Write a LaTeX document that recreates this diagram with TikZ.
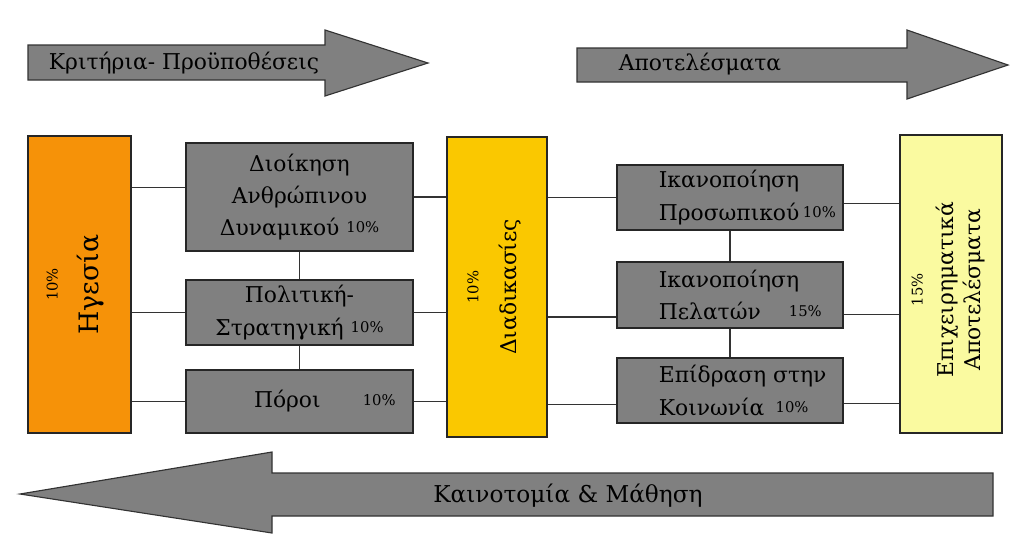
\documentclass[tikz,border=0pt]{standalone}
\usepackage{fontspec}
\setmainfont{DejaVu Serif}
\definecolor{leadorange}{RGB}{246,146,8}
\definecolor{procgold}{RGB}{250,200,0}
\definecolor{bizyellow}{RGB}{250,250,160}
\definecolor{boxgray}{RGB}{128,128,128}
\newcommand\pcnt[1]{\raisebox{2pt}{\fontsize{10.5}{12}\selectfont #1}}
\tikzset{
  bigarrow/.style={draw=black!80, fill=boxgray, line width=0.8pt},
  gbox/.style={draw=black!85, fill=boxgray, line width=0.8pt, inner sep=0pt},
  obox/.style={draw=black!85, fill=leadorange, line width=0.8pt, inner sep=0pt},
  pbox/.style={draw=black!85, fill=procgold, line width=0.8pt, inner sep=0pt},
  ybox/.style={draw=black!85, fill=bizyellow, line width=0.8pt, inner sep=0pt},
  txt/.style={font=\fontsize{15.5}{23}\selectfont, align=center, inner sep=0pt},
  link/.style={draw=black!80, line width=0.9pt}
}
\begin{document}
\begin{tikzpicture}[x=0.025cm,y=-0.025cm]
      \useasboundingbox (0,0) rectangle (1011,535);
      \draw[bigarrow] (28,45) -- (325,45) -- (325,30) -- (428,63) -- (325,96) -- (325,80) -- (28,80) -- cycle;
      \draw[bigarrow] (577,48) -- (907,48) -- (907,30) -- (1008,65) -- (907,99) -- (907,82) -- (577,82) -- cycle;
      \draw[bigarrow] (993,473) -- (272,473) -- (272,452) -- (20,494) -- (272,533) -- (272,516) -- (993,516) -- cycle;
      \node[txt] (crit) at (184,63) {Κριτήρια- Προϋποθέσεις};
      \node[txt] (outc) at (700,64) {Αποτελέσματα};
      \node[txt, font=\fontsize{16.5}{23}\selectfont] (innov) at (568,496) {Καινοτομία \& Μάθηση};
      \node[obox, minimum width=2.575cm, minimum height=7.425cm] (lead) at (79.5,284.5) {};
      \node[gbox, minimum width=5.675cm, minimum height=2.7cm, txt] (hrm) at (299.5,197)
        {Διοίκηση\\Ανθρώπινου\\Δυναμικού \pcnt{10\%}};
      \node[gbox, minimum width=5.675cm, minimum height=1.625cm, txt] (pol) at (299.5,312.5)
        {Πολιτική-\\Στρατηγική \pcnt{10\%}};
      \node[gbox, minimum width=5.675cm, minimum height=1.575cm, txt] (res) at (299.5,401.5)
        {\hspace*{36pt}Πόροι\hspace{30pt}\pcnt{10\%}};
      \node[pbox, minimum width=2.5cm, minimum height=7.5cm] (proc) at (497,287) {};
      \node[gbox, minimum width=5.65cm, minimum height=1.625cm] (ppl) at (730,197.5) {};
      \node[gbox, minimum width=5.65cm, minimum height=1.65cm] (cust) at (730,295) {};
      \node[gbox, minimum width=5.65cm, minimum height=1.625cm] (soc) at (730,390.5) {};
      \node[ybox, minimum width=2.55cm, minimum height=7.45cm] (biz) at (951,284) {};
      \node[txt, rotate=90, font=\fontsize{19}{26}\selectfont] (leadtxt) at ([xshift=-3pt]lead.center)
        {{\fontsize{10.5}{14}\selectfont 10\%}\\[3pt]Ηγεσία};
      \node[txt, rotate=90] (proctxt) at ([xshift=-2pt]proc.center)
        {{\fontsize{10.5}{14}\selectfont 10\%}\\[4pt]Διαδικασίες};
      \node[txt, rotate=90, font=\fontsize{15.5}{19}\selectfont] (biztxt) at ([xshift=-2pt,yshift=-4pt]biz.center)
        {{\fontsize{10.5}{14}\selectfont 15\%}\\[3pt]Επιχειρηματικά\\Αποτελέσματα};
      \node[txt, anchor=west, align=left] (ppltxt) at ([xshift=30pt]ppl.west)
        {Ικανοποίηση\\Προσωπικού\,\pcnt{10\%}};
      \node[txt, anchor=west, align=left] (custtxt) at ([xshift=30pt]cust.west)
        {Ικανοποίηση\\Πελατών\hspace{20pt}\pcnt{15\%}};
      \node[txt, anchor=west, align=left] (soctxt) at ([xshift=30pt]soc.west)
        {Επίδραση στην\\Κοινωνία\hspace{8pt}\pcnt{10\%}};
      \coordinate (hrmin) at ([yshift=7pt]hrm.west);
      \coordinate (custin) at ([yshift=-15.6pt]cust.west);
      \coordinate (socin) at ([yshift=-10pt]soc.west);
      \coordinate (pplout) at ([yshift=-4pt]ppl.east);
      \coordinate (custout) at ([yshift=-14pt]cust.east);
      \coordinate (socout) at ([yshift=-9pt]soc.east);
      \begin{scope}[link]
        \draw (lead.east |- hrmin) to (hrmin);
        \draw (lead.east |- pol.west) to (pol.west);
        \draw (lead.east |- res.west) to (res.west);
        \draw (hrm.south) to (pol.north);
        \draw (pol.south) to (res.north);
        \draw (hrm.east) to (proc.west |- hrm.east);
        \draw (pol.east) to (proc.west |- pol.east);
        \draw (res.east) to (proc.west |- res.east);
        \draw (proc.east |- ppl.west) to (ppl.west);
        \draw (proc.east |- custin) to (custin);
        \draw (proc.east |- socin) to (socin);
        \draw (ppl.south) to (cust.north);
        \draw (cust.south) to (soc.north);
        \draw (pplout) to (biz.west |- pplout);
        \draw (custout) to (biz.west |- custout);
        \draw (socout) to (biz.west |- socout);
      \end{scope}
    \end{tikzpicture}
\end{document}
